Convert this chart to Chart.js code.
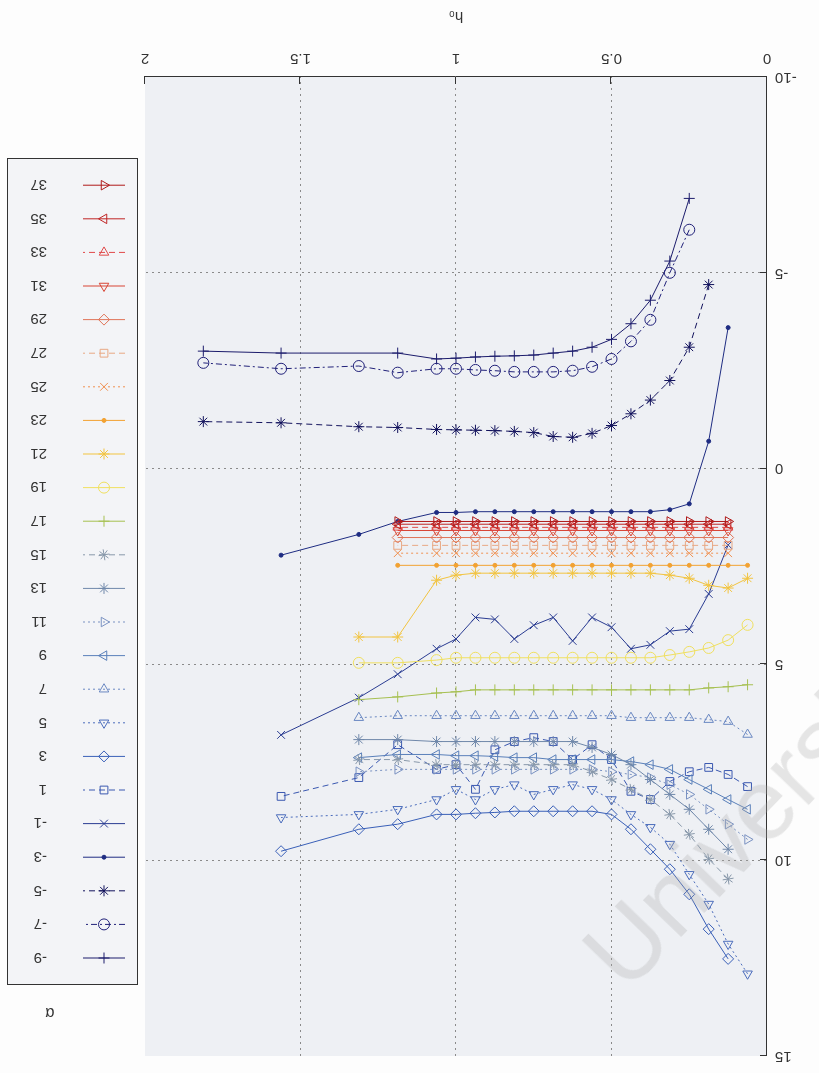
<!DOCTYPE html>
<html>
<head>
<meta charset="utf-8">
<script src="https://cdn.jsdelivr.net/npm/chart.js@4.4.1/dist/chart.umd.min.js"></script>
<style>
  html, body { margin: 0; background: #fdfdfd; }
  #wrap { position: relative; width: 819px; height: 1073px; overflow: hidden; }
  /* the page was printed upside down, so the whole figure is turned */
  #chart { display: block; transform: rotate(180deg); }
  #mark {
    position: absolute; left: 560px; top: 930px;
    font: 100px "Liberation Sans", Arial, sans-serif;
    color: rgba(170, 170, 170, 0.28);
    transform-origin: 0 0; transform: rotate(-46deg);
    white-space: nowrap; pointer-events: none;
  }
</style>
</head>
<body>
<div id="wrap">
  <canvas id="chart" width="819" height="1073"></canvas>
  <div id="mark">University</div>
</div>
<script>
// h0 sample positions shared by all curves
const H0 = [0.0625, 0.125, 0.1875, 0.25, 0.3125, 0.375, 0.4375, 0.5, 0.5625, 0.625, 0.6875,
            0.75, 0.8125, 0.875, 0.9375, 1.0, 1.0625, 1.1875, 1.3125, 1.5625, 1.8125];

const ALPHAS = [-9, -7, -5, -3, -1, 1, 3, 5, 7, 9, 11, 13, 15, 17, 19, 21, 23, 25, 27, 29, 31, 33, 35, 37];

const X_TICKS = [0, 0.5, 1, 1.5, 2];
const Y_TICKS = [-10, -5, 0, 5, 10, 15];

// one row per alpha, same order as H0 (null = not computed)
const a_m9 = [null, null, null, -6.9, -5.3, -4.3, -3.7, -3.3, -3.1, -3.0, -2.95, -2.9, -2.88, -2.87, -2.85, -2.82, -2.8, -2.95, null, -2.95, -3.0];
const a_m7 = [null, null, null, -6.1, -5.0, -3.8, -3.25, -2.8, -2.6, -2.5, -2.47, -2.47, -2.47, -2.5, -2.52, -2.55, -2.55, -2.45, -2.62, -2.55, -2.7];
const a_m5 = [null, null, -4.7, -3.1, -2.25, -1.75, -1.4, -1.1, -0.9, -0.8, -0.82, -0.92, -0.95, -0.97, -0.98, -0.99, -1.0, -1.05, -1.07, -1.17, -1.2];
const a_m3 = [null, -3.6, -0.7, 0.9, 1.05, 1.1, 1.1, 1.1, 1.1, 1.1, 1.1, 1.1, 1.1, 1.1, 1.1, 1.12, 1.12, 1.35, 1.68, 2.21, null];
const a_m1 = [null, 1.95, 3.2, 4.1, 4.15, 4.5, 4.6, 4.05, 3.8, 4.4, 3.8, 4.0, 4.35, 3.85, 3.8, 4.35, 4.6, 5.25, 5.85, 6.8, null];
const a_1  = [8.12, 7.81, 7.63, 7.74, 7.99, 8.45, 8.24, 7.43, 7.05, 7.43, 6.97, 6.87, 6.97, 7.18, 8.19, 7.56, 7.68, 7.05, 7.89, 8.37, null];
const a_3  = [null, 12.52, 11.76, 10.87, 10.23, 9.72, 9.21, 8.83, 8.75, 8.75, 8.75, 8.75, 8.75, 8.78, 8.8, 8.83, 8.83, 9.08, 9.21, 9.77, null];
const a_5  = [12.9, 12.14, 11.12, 10.36, 9.59, 9.16, 8.83, 8.45, 8.19, 8.07, 8.19, 8.32, 8.07, 8.19, 8.45, 8.19, 8.45, 8.7, 8.83, 8.91, null];
const a_7  = [6.79, 6.46, 6.41, 6.36, 6.36, 6.36, 6.36, 6.31, 6.31, 6.31, 6.31, 6.31, 6.31, 6.31, 6.31, 6.31, 6.31, 6.31, 6.36, null, null];
const a_9  = [8.7, 8.45, 8.19, 7.94, 7.68, 7.56, 7.48, 7.43, 7.43, 7.43, 7.43, 7.38, 7.38, 7.35, 7.33, 7.33, 7.3, 7.3, 7.38, null, null];
const a_11 = [9.47, 9.08, 8.7, 8.32, 8.07, 7.89, 7.81, 7.74, 7.68, 7.68, 7.68, 7.68, 7.68, 7.68, 7.68, 7.68, 7.68, 7.68, 7.74, null, null];
const a_13 = [null, 9.72, 9.21, 8.7, 8.32, 7.94, 7.56, 7.3, 7.12, 6.97, 6.97, 6.97, 6.97, 6.97, 6.97, 6.97, 6.97, 6.92, 6.92, null, null];
const a_15 = [null, 10.48, 9.97, 9.34, 8.83, 8.45, 8.19, 7.94, 7.74, 7.56, 7.56, 7.56, 7.56, 7.56, 7.56, 7.56, 7.56, 7.43, 7.43, null, null];
const a_17 = [5.52, 5.57, 5.6, 5.65, 5.65, 5.65, 5.65, 5.65, 5.65, 5.65, 5.65, 5.65, 5.65, 5.65, 5.65, 5.7, 5.73, 5.83, 5.9, null, null];
const a_19 = [3.99, 4.38, 4.58, 4.68, 4.76, 4.83, 4.83, 4.83, 4.83, 4.83, 4.83, 4.83, 4.83, 4.83, 4.83, 4.83, 4.89, 4.96, 4.96, null, null];
const a_21 = [2.8, 3.05, 2.98, 2.8, 2.72, 2.67, 2.67, 2.67, 2.67, 2.67, 2.67, 2.67, 2.67, 2.67, 2.67, 2.72, 2.85, 4.3, 4.3, null, null];
const a_23 = [2.47, 2.47, 2.47, 2.47, 2.47, 2.47, 2.47, 2.47, 2.47, 2.47, 2.47, 2.47, 2.47, 2.47, 2.47, 2.47, 2.47, 2.47, null, null, null];
const a_25 = [null, 2.16, 2.16, 2.16, 2.16, 2.16, 2.16, 2.16, 2.16, 2.16, 2.16, 2.16, 2.16, 2.16, 2.16, 2.16, 2.16, 2.16, null, null, null];
const a_27 = [null, 1.96, 1.96, 1.96, 1.96, 1.96, 1.96, 1.96, 1.96, 1.96, 1.96, 1.96, 1.96, 1.96, 1.96, 1.96, 1.96, 1.96, null, null, null];
const a_29 = [null, 1.76, 1.76, 1.76, 1.76, 1.76, 1.76, 1.76, 1.76, 1.76, 1.76, 1.76, 1.76, 1.76, 1.76, 1.76, 1.76, 1.76, null, null, null];
const a_31 = [null, 1.58, 1.58, 1.58, 1.58, 1.58, 1.58, 1.58, 1.58, 1.58, 1.58, 1.58, 1.58, 1.58, 1.58, 1.58, 1.58, 1.58, null, null, null];
const a_33 = [null, 1.5, 1.5, 1.5, 1.5, 1.5, 1.5, 1.5, 1.5, 1.5, 1.5, 1.5, 1.5, 1.5, 1.5, 1.5, 1.5, 1.5, null, null, null];
const a_35 = [null, 1.42, 1.42, 1.42, 1.42, 1.42, 1.42, 1.42, 1.42, 1.42, 1.42, 1.42, 1.42, 1.42, 1.42, 1.42, 1.42, 1.42, null, null, null];
const a_37 = [null, 1.35, 1.35, 1.35, 1.35, 1.35, 1.35, 1.35, 1.35, 1.35, 1.35, 1.35, 1.35, 1.35, 1.35, 1.35, 1.35, 1.35, null, null, null];

const SERIES = [a_m9, a_m7, a_m5, a_m3, a_m1, a_1, a_3, a_5, a_7, a_9, a_11, a_13, a_15,
                a_17, a_19, a_21, a_23, a_25, a_27, a_29, a_31, a_33, a_35, a_37];

// colour map, dark blue -> green -> yellow -> red
const COLORS = ['#1c1c6c', '#22227a', '#12125c', '#1e2c82', '#2a3c92', '#3a58b0', '#3a60b8', '#4a6cbc',
                '#6a88c2', '#5a80ba', '#7a92c2', '#7088aa', '#8898aa', '#a6c050', '#f0e060', '#f2c440',
                '#f2a232', '#f09050', '#e8a884', '#e07458', '#d84434', '#e04848', '#c02424', '#b01a1a'];

// matlab marker cycle: + o * . x s d ^ v > < p h
const MARKERS = [
  { style: 'cross', rot: 0 }, { style: 'circle', rot: 0 }, { style: 'star', rot: 0 },
  { style: 'circle', rot: 0, dot: true }, { style: 'crossRot', rot: 0 }, { style: 'rect', rot: 0 },
  { style: 'rectRot', rot: 0 }, { style: 'triangle', rot: 0 }, { style: 'triangle', rot: 180 },
  { style: 'triangle', rot: 90 }, { style: 'triangle', rot: 270 }, { style: 'star', rot: 0 },
  { style: 'star', rot: 36 }
];

const SOLID = [], DASH = [6, 4], DOT = [2, 3], DASHDOT = [6, 3, 2, 3];
const DASHES = [SOLID, DASHDOT, DASH, SOLID, SOLID, DASH, SOLID, DOT, DOT, SOLID, DOT, SOLID, DASH,
                SOLID, SOLID, SOLID, SOLID, DOT, DASH, SOLID, SOLID, DASH, SOLID, SOLID];

const FONT = { family: '"Liberation Sans", Arial, sans-serif', size: 15 };

const datasets = ALPHAS.map((a, i) => {
  const m = MARKERS[i % MARKERS.length];
  const pts = [];
  H0.forEach((h, k) => { if (SERIES[i][k] !== null) pts.push({ x: h, y: SERIES[i][k] }); });
  return {
    label: String(a),
    data: pts,
    borderColor: COLORS[i],
    backgroundColor: m.dot ? COLORS[i] : 'rgba(0,0,0,0)',
    borderWidth: 1,
    borderDash: DASHES[i],
    pointStyle: m.style,
    pointRotation: m.rot,
    pointRadius: m.dot ? 2 : 5.5,
    pointBorderWidth: 1,
    pointBorderColor: COLORS[i],
    pointBackgroundColor: m.dot ? COLORS[i] : 'rgba(0,0,0,0)',
    tension: 0,
    fill: false,
    order: ALPHAS.length - i
  };
});

const plotBackground = {
  id: 'plotBackground',
  beforeDraw(chart) {
    const { ctx, chartArea: a } = chart;
    ctx.save();
    ctx.fillStyle = '#eef0f4';
    ctx.fillRect(a.left, a.top, a.right - a.left, a.bottom - a.top);
    ctx.restore();
  }
};

// short tick marks pointing into the plot
const inwardTicks = {
  id: 'inwardTicks',
  afterDatasetsDraw(chart) {
    const { ctx, chartArea: a, scales } = chart;
    ctx.save();
    ctx.strokeStyle = '#333';
    ctx.lineWidth = 1;
    ctx.beginPath();
    X_TICKS.forEach(v => {
      const x = Math.round(scales.x.getPixelForValue(v)) + 0.5;
      ctx.moveTo(x, a.bottom); ctx.lineTo(x, a.bottom - 7);
    });
    Y_TICKS.forEach(v => {
      const y = Math.round(scales.y.getPixelForValue(v)) + 0.5;
      ctx.moveTo(a.left, y); ctx.lineTo(a.left + 7, y);
    });
    ctx.stroke();
    ctx.restore();
  }
};

// boxed legend with line sample + marker, titled alpha
const alphaLegend = {
  id: 'alphaLegend',
  afterDraw(chart) {
    const ctx = chart.ctx;
    const box = { x: 681, y: 88, w: 130, h: 826 };
    const rowTop = 115, rowStep = 33.6;
    ctx.save();
    ctx.fillStyle = '#f3f4f7';
    ctx.fillRect(box.x, box.y, box.w, box.h);
    ctx.strokeStyle = '#333';
    ctx.lineWidth = 1;
    ctx.strokeRect(box.x + 0.5, box.y + 0.5, box.w, box.h);

    ctx.fillStyle = '#333';
    ctx.font = '16px ' + FONT.family;
    ctx.textAlign = 'center';
    ctx.textBaseline = 'middle';
    ctx.fillText('\u03b1', 769, 61);

    ctx.font = FONT.size + 'px ' + FONT.family;
    ctx.textAlign = 'left';
    datasets.forEach((ds, i) => {
      const y = rowTop + i * rowStep;
      ctx.strokeStyle = ds.borderColor;
      ctx.lineWidth = 1;
      ctx.setLineDash(ds.borderDash);
      ctx.beginPath();
      ctx.moveTo(694, y); ctx.lineTo(736, y);
      ctx.stroke();
      ctx.setLineDash([]);
      ctx.fillStyle = ds.pointBackgroundColor;
      Chart.helpers.drawPoint(ctx, {
        pointStyle: ds.pointStyle, rotation: ds.pointRotation,
        radius: ds.pointRadius, borderWidth: 1
      }, 715, y);
      ctx.fillStyle = '#333';
      ctx.fillText(ds.label, 772, y + 1);
    });
    ctx.restore();
  }
};

const edgeless = (lo, hi) => ctx =>
  (ctx.tick && (ctx.tick.value === lo || ctx.tick.value === hi)) ? 'rgba(0,0,0,0)' : '#8a8a8a';

new Chart(document.getElementById('chart'), {
  type: 'line',
  data: { datasets },
  options: {
    responsive: false,
    animation: false,
    devicePixelRatio: 1,
    layout: { padding: { left: 0, top: 16, right: 145, bottom: 0 } },
    plugins: { legend: { display: false }, tooltip: { enabled: false } },
    elements: { line: { borderCapStyle: 'butt' } },
    scales: {
      x: {
        type: 'linear', min: 0, max: 2,
        afterBuildTicks: s => { s.ticks = X_TICKS.map(v => ({ value: v })); },
        afterFit: s => { s.height = 77; },
        ticks: { color: '#333', font: FONT, padding: 10, maxRotation: 0, callback: v => String(v) },
        grid: { color: edgeless(0, 2), lineWidth: 1, drawTicks: false },
        border: { display: true, color: '#333', width: 1, dash: [2, 4] },
        title: { display: true, text: 'h\u2080', color: '#333', font: FONT, padding: { top: 4, bottom: 7 } }
      },
      y: {
        type: 'linear', min: -10, max: 15,
        afterBuildTicks: s => { s.ticks = Y_TICKS.map(v => ({ value: v })); },
        afterFit: s => { s.width = 52; },
        ticks: { color: '#333', font: FONT, padding: 8, callback: v => String(v) },
        grid: { color: edgeless(-10, 15), lineWidth: 1, drawTicks: false },
        border: { display: true, color: '#333', width: 1, dash: [2, 4] }
      }
    }
  },
  plugins: [plotBackground, inwardTicks, alphaLegend]
});
</script>
</body>
</html>
